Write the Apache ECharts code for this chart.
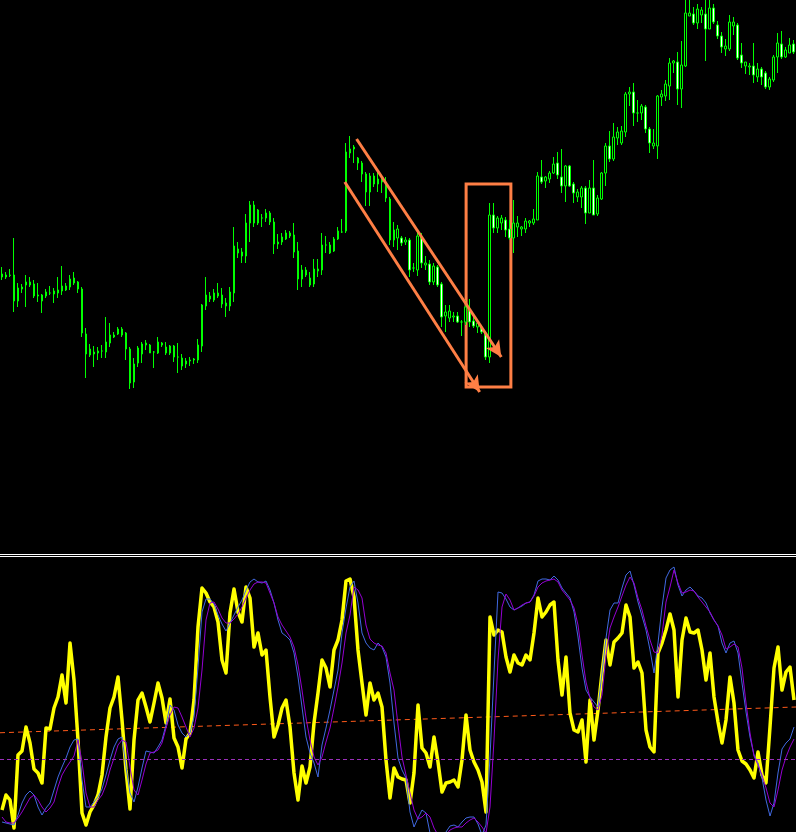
<!DOCTYPE html>
<html>
<head>
<meta charset="utf-8">
<script src="https://cdn.jsdelivr.net/npm/echarts@6/dist/echarts.min.js"></script>
<style>html,body{margin:0;padding:0;background:#000;}#c{width:796px;height:832px;}</style>
</head>
<body>
<div id="c"></div>
<script>
// OHLC bars: [open, close, low, high]
const candles = [
[112.3,112.6,112.0,113.3],[112.3,112.5,112.1,112.8],[112.45,112.5,112.3,113.1],[112.5,109.9,108.8,116.2],[109.9,111.2,109.3,111.7],
[111.1,111.3,110.7,111.6],[111.5,111.8,109.3,112.5],[111.5,111.8,111.3,112.3],[111.6,110.4,110.2,112.0],[110.4,110.5,109.8,111.7],
[110.5,109.9,108.7,110.6],[110.4,110.8,110.2,111.1],[110.7,110.7,110.5,111.4],[110.6,110.9,109.7,111.2],[110.7,111.0,110.2,112.3],
[110.9,111.4,110.5,113.4],[111.0,111.4,110.9,111.7],[111.3,112.1,111.0,112.5],[111.7,112.2,111.5,112.8],[111.8,111.1,110.7,111.9],
[111.1,106.7,106.3,111.3],[106.6,104.6,102.2,107.2],[104.5,105.1,104.3,105.6],[104.6,104.8,103.3,105.4],[104.7,104.9,104.0,105.3],
[104.9,104.9,104.2,105.5],[104.8,105.8,104.2,108.3],[105.7,106.5,105.3,107.7],[106.3,106.5,106.2,106.8],[106.6,107.1,106.5,107.3],
[107.1,106.5,106.3,107.3],[106.7,105.1,104.0,106.8],[105.1,101.7,101.1,105.3],[101.8,103.6,101.2,104.2],[103.7,105.2,103.3,105.4],
[104.6,105.6,103.7,105.8],[105.5,105.7,105.0,106.0],[105.5,104.7,104.7,105.6],[104.8,104.8,103.2,104.9],[104.7,105.8,104.6,106.3],
[105.5,105.7,105.3,105.8],[105.3,104.7,104.5,105.8],[104.7,105.4,104.5,105.5],[105.4,104.3,103.8,105.5],[104.3,104.3,102.7,105.7],
[104.2,103.4,103.0,104.6],[103.6,103.9,103.2,104.2],[103.9,104.0,103.4,104.3],[104.0,104.1,103.6,104.2],[104.0,105.5,103.7,106.1],
[105.4,109.5,104.8,109.6],[109.4,110.5,109.0,112.3],[110.1,110.4,109.8,110.8],[110.0,110.7,109.8,111.1],[110.4,110.7,110.2,111.7],
[110.5,109.6,109.2,111.2],[109.4,109.7,108.3,110.2],[109.4,110.8,108.9,111.3],[110.7,115.4,109.8,117.3],[114.7,115.1,114.2,115.8],
[114.4,114.8,113.7,115.2],[114.4,117.7,113.7,118.6],[117.7,119.5,115.8,119.9],[119.5,117.7,117.3,119.9],[117.7,119.0,117.5,119.1],
[118.2,118.2,117.3,118.6],[118.2,118.7,117.8,119.1],[118.7,117.8,117.5,118.9],[117.8,115.6,114.6,118.2],[115.6,115.8,115.1,116.6],
[115.8,116.3,115.5,116.7],[116.1,116.7,116.0,117.0],[116.4,116.7,116.2,116.9],[116.5,114.8,114.2,117.7],[114.9,112.1,111.0,115.8],
[112.1,113.0,111.3,113.5],[112.5,113.0,112.3,113.3],[112.2,111.5,111.3,112.8],[111.6,113.1,111.3,114.1],[112.9,113.1,112.3,114.1],
[113.0,115.5,112.5,116.7],[115.5,115.5,114.7,116.4],[115.5,114.7,114.6,115.8],[114.9,116.1,114.8,116.3],[116.1,116.9,116.0,117.3],
[116.8,116.8,116.7,118.1],[116.9,124.8,116.7,125.7],[124.7,125.1,124.2,126.4],[125.1,125.3,123.7,125.5],[124.2,123.7,123.0,124.3],
[123.7,122.6,121.8,123.9],[122.6,120.8,119.4,122.8],[120.8,122.4,119.4,122.7],[122.4,121.6,121.3,122.7],[121.6,122.1,120.8,122.8],
[121.8,122.0,120.7,122.3],[121.7,120.2,119.8,122.3],[120.1,116.0,115.5,120.3],[116.0,117.0,115.3,117.8],[116.2,117.1,115.0,117.5],
[116.2,115.7,115.4,116.4],[115.8,116.0,115.5,116.3],[116.0,113.0,112.3,116.2],[113.2,113.2,112.8,113.7],[113.0,116.4,112.4,116.8],
[116.3,113.7,113.2,116.7],[113.5,113.7,113.0,114.4],[113.6,111.8,111.5,114.0],[111.8,113.4,111.5,113.7],[113.3,111.5,111.3,113.5],
[111.6,108.3,107.3,111.8],[108.4,108.8,106.8,109.5],[108.2,108.9,107.8,109.5],[108.3,108.4,107.8,108.8],[108.4,107.8,107.7,108.8],
[107.8,107.8,106.4,108.0],[107.8,109.3,107.5,110.0],[109.0,107.8,107.3,110.1],[107.9,107.4,107.2,108.3],[107.3,107.7,106.7,107.8],
[107.3,106.8,106.6,107.5],[106.7,104.3,104.0,106.9],[104.3,118.5,103.7,119.7],[118.5,117.2,116.7,119.7],[117.2,118.2,116.7,118.4],
[117.7,118.2,117.0,118.5],[118.0,117.0,116.3,118.3],[117.1,116.2,116.0,118.0],[116.2,117.7,114.7,120.0],[117.3,117.7,116.3,118.4],
[117.1,117.3,116.4,117.4],[117.1,117.9,116.7,118.2],[117.7,117.9,117.3,118.0],[117.7,118.1,117.5,119.1],[118.0,122.4,118.0,122.8],
[122.3,121.8,121.6,124.0],[121.9,122.3,121.2,122.4],[122.1,122.7,121.7,122.9],[122.7,123.6,122.6,124.3],[123.7,122.5,122.1,124.8],
[122.3,121.4,120.7,125.1],[121.4,123.4,119.8,123.5],[123.4,121.4,121.3,123.5],[121.6,120.7,119.7,121.8],[120.3,120.8,119.8,121.1],
[120.3,121.2,119.2,121.4],[121.2,118.7,117.6,121.4],[118.7,121.2,118.7,122.0],[121.2,118.5,118.5,124.0],[118.6,120.2,118.4,120.5],
[120.1,122.7,120.0,122.8],[122.7,125.4,121.4,125.7],[125.4,124.1,123.8,126.9],[124.1,126.3,123.9,127.7],[126.2,126.8,125.5,127.3],
[125.7,126.9,125.5,127.4],[126.8,130.6,126.3,130.8],[130.6,130.8,129.4,131.3],[130.8,128.7,127.4,131.7],[128.7,128.7,127.8,130.0],
[128.7,129.4,128.0,129.6],[129.3,127.1,126.7,129.5],[127.1,125.7,124.7,127.3],[125.4,125.7,125.1,127.1],[125.4,130.4,124.1,130.5],
[130.3,130.6,129.4,131.0],[130.4,131.6,129.9,132.0],[131.4,133.7,130.0,134.2],[133.7,133.9,132.7,134.0],[133.8,131.1,129.5,134.8],
[131.1,133.5,129.2,135.9],[133.4,138.7,133.3,140.3],[138.4,138.7,138.4,140.2],[138.6,137.7,137.5,139.3],[137.7,139.1,137.1,139.6],
[138.5,139.0,137.7,139.3],[138.6,137.1,133.9,140.1],[137.1,139.2,137.1,140.2],[139.2,137.8,137.6,139.6],[137.5,136.4,136.1,137.9],
[136.4,135.3,134.7,136.8],[135.1,135.4,134.4,136.1],[135.1,137.8,134.9,138.5],[137.4,137.8,136.5,138.3],[137.5,134.2,134.0,137.7],
[134.5,133.7,133.2,135.7],[133.4,133.8,132.6,133.8],[133.3,133.4,132.5,133.7],[133.4,132.5,131.7,135.7],[132.3,133.1,131.8,133.7],
[133.1,132.3,131.5,133.3],[132.7,131.3,131.1,132.9],[131.3,132.1,131.0,132.3],[132.0,134.3,131.8,134.5],[134.3,135.7,132.7,136.7],
[135.6,134.3,134.1,136.9],[134.3,135.0,134.2,135.3],[134.7,135.5,134.7,136.2],[135.6,134.8,134.6,136.0]
];

// oscillator (thick yellow)
const mainLine = [
8.8,14.8,12.8,1.6,30.8,32.4,42,35.6,25.2,23.6,
19.6,41.6,41.2,49.6,54,62.8,51.6,75.6,60.8,36.8,
7.6,2.8,8,10.8,14.8,22.8,38,49.6,54,62,
44.8,24.8,9.2,36.8,52.8,55.6,50,44,51.6,59.6,
53.6,43.6,53.2,37.6,34,25.6,37.2,39.6,52.8,82,
97.6,95.6,92,90,84,68.8,63.6,87.6,97.2,88,
84,98,93.6,74,79.6,70.8,72.8,54,38,42.8,
49.6,52.8,42,23.6,12.8,26.4,19.6,26,43.6,55.6,
68.8,65.6,58,72.8,76.8,84.8,100.4,101.2,94,72.8,
59.6,46.8,59.6,52.8,55.6,50,28.8,13.6,25.6,22,
21.2,20.8,11.6,23.6,50.8,33.6,31.6,26,38,28,
16,19.6,20,20.8,18,28.8,46.8,32.8,28,24.8,
20,8,86,78.8,80.8,80,70,64,70.8,67.6,
66.8,70.8,68.8,79.6,93.6,86,88,90.8,92,68.8,
54.8,70,47.6,40.8,40,44.8,28,52.8,36.8,48.8,
63.6,76.8,66.8,76,77.6,79.6,90.8,86,65.6,68,
63.6,40.8,34,32,71.6,75.6,80.8,87.2,80.8,54,
76.8,85.6,80,79.6,80.8,72.8,60.8,71.6,54,44,
35.6,44.8,62,51.6,32.8,28.4,27.2,24.8,21.6,32,
22.8,19.6,42,65.6,74,56.8,64,66,52.8
];

// fast smoothed line (blue)
const fastLine = [
4,3.6,3.2,2.8,6.8,11.6,14.8,16.4,14.8,10,
6.8,9.6,11.6,16.8,22,26,29.6,34,36.8,37.2,
20.8,10,10,12,14,17.2,22.8,28.8,34,37.2,
38,26,15.6,12,18,25.6,32.4,32,31.6,34,
36.8,42.8,50.8,48.8,42.8,39.6,38,39.6,46,66,
88,93.2,93.2,91.2,86.8,83.2,80.4,83.6,86.8,90,
92.8,96.8,100,101.2,100,99.6,100.4,96.8,91.6,84.8,
79.6,78.4,76.8,71.6,62,50,38,31.6,27.6,22,
34.8,41.6,48.8,56.8,64.8,79.6,89.6,98,100.4,91.6,
79.6,75.6,73.6,72.8,75.6,74,70,59.6,43.6,29.6,
24.8,21.6,8,2,5.6,8.8,7.6,-0.4,-4.4,-4.4,
-3.2,0,2.4,2.8,2,4,5.6,6,6,3.2,
-1.2,2.8,30,63.6,96,95.6,93.2,90,88.8,89.6,
90.4,91.6,92,94.8,100.4,101.2,101.2,100.8,102.4,100.8,
97.6,95.6,93.6,88,78,65.6,56.8,54,52,50,
63.6,77.6,88.8,91.6,91.6,97.6,102.8,104.4,98.8,92,
86.4,80.8,72.8,63.6,75.6,90,101.6,104.8,106,98.8,
94.4,96.8,98,96.4,94.4,93.6,91.6,87.6,84.8,82.4,
75.6,71.6,75.6,76.4,71.6,59.6,48,38,30.8,27.6,
21.6,12.8,6.4,11.6,23.6,33.2,35.6,37.2,42
];

// slow smoothed line (purple)
const slowLine = [
6,4,3.6,3.6,5.6,8,10.8,13.6,14.8,12.8,
10,8,9.6,12,18,22.8,25.6,28,30.4,36.8,
28,15.6,10,10,12.8,14.8,18.8,24.8,29.6,34.8,
36.8,36,26,16.8,14.8,20.8,27.2,31.6,32,32.8,
35.6,41.6,46.8,50,49.6,46,42,38,41.6,49.6,
64.8,84.8,91.6,92,89.2,85.6,83.6,83.6,85.2,87.2,
90,93.6,96.8,99.2,100,100,99.6,95.6,91.6,86,
82.8,80.4,78,74,66.8,56.8,45.6,36.8,30,26.8,
30,36,41.6,49.6,58,67.6,79.6,86.8,98,96.8,
93.6,82.8,77.2,75.6,74.8,74.4,71.6,63.6,56.8,42.8,
30,22.8,15.6,8.8,5.2,6,7.6,6,1.6,-1.2,
-3.2,-1.2,0.8,1.6,2,2,3.6,4.8,5.6,4,
2,-0.4,10,36.8,68.8,90,95.2,92.8,88.8,89.6,
90.8,91.6,92,94.4,98,99.6,100.4,100.8,101.2,100,
96.8,94.8,92.8,89.6,82.8,70.8,60,53.6,50,48.8,
54.8,70.8,81.6,86,90,94.4,98.8,102,99.6,93.6,
88.8,82.4,76.8,72,71.6,78.8,92,98,104.8,99.6,
95.6,96,96.8,96.4,94,92,90,88,84.8,82.4,
78.8,73.2,74,75.2,74,65.6,51.6,39.6,30.4,26.8,
22.8,17.6,11.6,10,16.8,24.8,30,34,37.2
];

// level lines of the lower panel
const lowLevel = 29.2;
const trendLevel = [39.7, 50.0];   // value at first bar edge, value at last bar edge

// drawn annotations: [bar position, price]
const arrowA = [[88.7, 126.1], [124.9, 104.3]];
const arrowB = [[85.75, 121.8], [119.5, 100.8]];
const box = [[116.1, 121.6], [127.3, 101.3]];

const N = candles.length;
const categories = candles.map((_, i) => 'Bar ' + (i + 1));
const ANN = '#FF7F45';

const chart = echarts.init(document.getElementById('c'), null, {renderer: 'canvas'});
chart.setOption({
  backgroundColor: '#000',
  animation: false,
  grid: [
    {left: -0.5, right: 0.5, top: 0, height: 553},
    {left: 0, right: 0, top: 557, height: 275}
  ],
  xAxis: [
    {type: 'category', data: categories, gridIndex: 0, show: false, boundaryGap: true},
    {type: 'value', gridIndex: 0, min: -0.5, max: N - 0.5, show: false},
    {type: 'category', data: categories, gridIndex: 1, show: false, boundaryGap: true},
    {type: 'value', gridIndex: 1, min: -0.5, max: N - 0.5, show: false}
  ],
  yAxis: [
    {type: 'value', gridIndex: 0, min: 84.7, max: 140, show: false, splitLine: {show: false}},
    {type: 'value', gridIndex: 1, min: 0, max: 110, show: false, splitLine: {show: false}}
  ],
  graphic: [
    {type: 'line', shape: {x1: 0, y1: 554.5, x2: 796, y2: 554.5}, style: {stroke: '#ffffff', lineWidth: 1}},
    {type: 'line', shape: {x1: 0, y1: 556.5, x2: 796, y2: 556.5}, style: {stroke: '#ffffff', lineWidth: 1}}
  ],
  series: [
    {
      type: 'candlestick', xAxisIndex: 0, yAxisIndex: 0, data: candles, barWidth: 2,
      itemStyle: {color: '#000000', color0: '#ffffff', borderColor: '#00ff00', borderColor0: '#00ff00', borderColorDoji: '#00ff00', borderWidth: 1}
    },
    {
      type: 'line', xAxisIndex: 1, yAxisIndex: 0, data: arrowA, silent: true, showSymbol: false,
      lineStyle: {opacity: 0},
      markLine: {
        silent: true, symbol: ['none', 'arrow'], symbolSize: [12, 16],
        label: {show: false},
        lineStyle: {color: ANN, width: 3, type: 'solid'},
        data: [
          [{coord: arrowA[0]}, {coord: arrowA[1]}],
          [{coord: arrowB[0]}, {coord: arrowB[1]}]
        ]
      },
      markArea: {
        silent: true,
        itemStyle: {color: 'rgba(0,0,0,0)', borderColor: ANN, borderWidth: 3},
        data: [[{coord: box[0]}, {coord: box[1]}]]
      }
    },
    {
      type: 'line', xAxisIndex: 3, yAxisIndex: 1, data: [[-0.5, trendLevel[0]], [N - 0.5, trendLevel[1]]],
      silent: true, showSymbol: false, lineStyle: {color: '#FF5A1A', width: 1, type: [5, 4]},
      markLine: {
        silent: true, symbol: 'none', label: {show: false},
        lineStyle: {color: '#9A2FB8', width: 1, type: [4, 3]},
        data: [{yAxis: lowLevel}]
      }
    },
    {
      type: 'line', xAxisIndex: 2, yAxisIndex: 1, data: mainLine, showSymbol: false, silent: true,
      lineStyle: {color: '#FFFF00', width: 3.5, join: 'round'}
    },
    {
      type: 'line', xAxisIndex: 2, yAxisIndex: 1, data: fastLine, showSymbol: false, silent: true,
      lineStyle: {color: '#4169E1', width: 1}
    },
    {
      type: 'line', xAxisIndex: 2, yAxisIndex: 1, data: slowLine, showSymbol: false, silent: true,
      lineStyle: {color: '#9400D3', width: 1}
    }
  ]
});
</script>
</body>
</html>
